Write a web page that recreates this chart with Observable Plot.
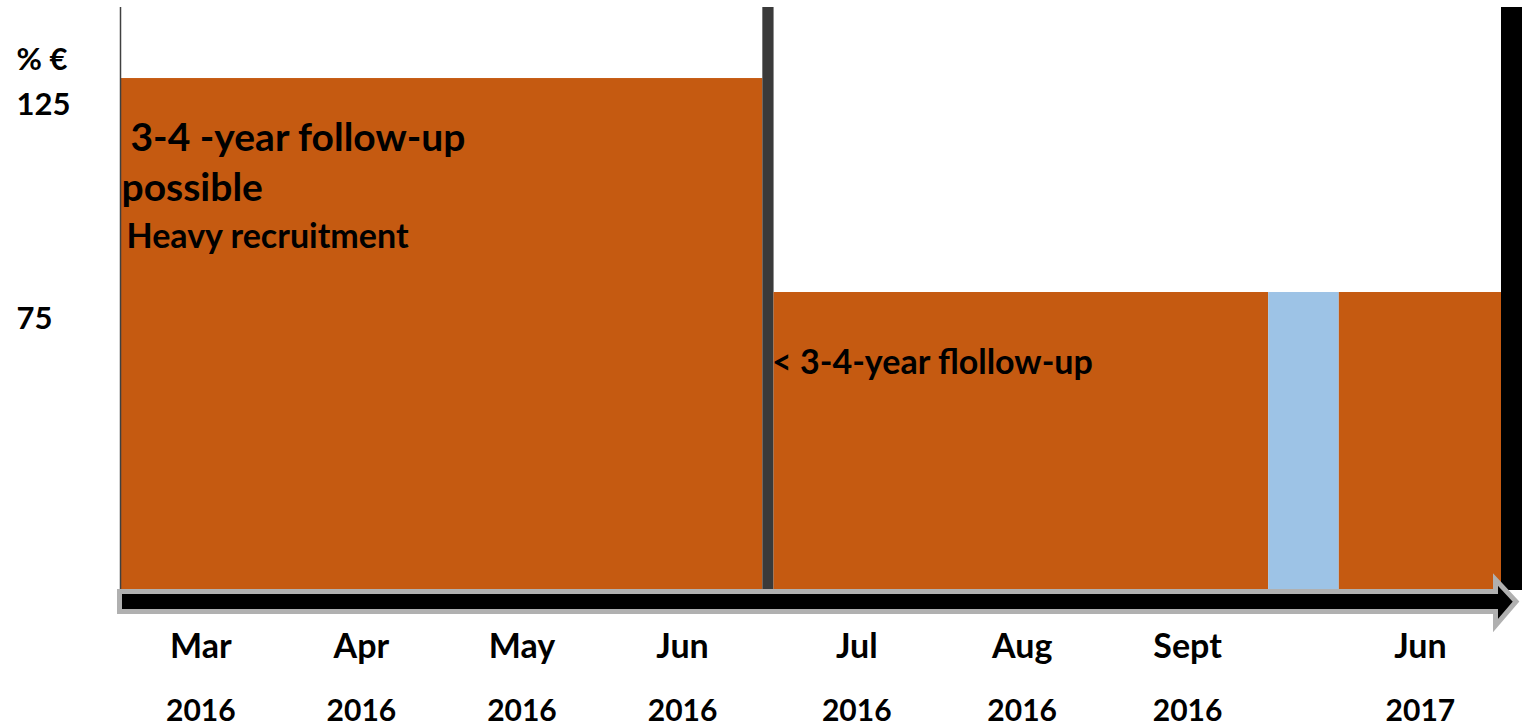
<!DOCTYPE html>
<html><head><meta charset="utf-8">
<script src="https://cdn.jsdelivr.net/npm/d3@7"></script>
<script src="https://cdn.jsdelivr.net/npm/@observablehq/plot@0.6"></script>
<style>html,body{margin:0;padding:0;background:#fff} svg{display:block}</style>
</head><body><div id="chart"></div>
<script>
// ---- data ----
const segStart = [0, 4, 4.07, 7.15, 7.59];
const segEnd   = [4, 4.07, 7.15, 7.59, 8.6];
const segValue = [125, 141.6, 75, 75, 75];
const segKind  = ["period", "divider", "period", "break", "period"];

const monthLabels = ["Mar", "Apr", "May", "Jun", "Jul", "Aug", "Sept", "Jun"];
const yearLabels  = ["2016", "2016", "2016", "2016", "2016", "2016", "2016", "2017"];
const monthPos    = [0.5, 1.5, 2.5, 3.5, 4.585, 5.615, 6.645, 8.095];

const yTicks = [125, 75];
const yUnit = "% €";

const noteText = ["3-4 -year follow-up", "possible", "Heavy recruitment", "< 3-4-year flollow-up"];
const noteX    = [0, 0, 0, 4.07];
const noteY    = [111.0, 99.3, 87.85, 58.6];
const noteSize = [39, 39, 34, 34];
const noteDx   = [10, 1, 6, -2];

const yMin = 5.37;
const yMax = 141.6;
const xEnd = 8.6;

// ---- tables ----
const segs = segStart.map((s, i) => ({start: s, end: segEnd[i], value: segValue[i], kind: segKind[i]}));
const months = monthLabels.map((m, i) => ({m, y: yearLabels[i], x: monthPos[i]}));
const notes = noteText.map((t, i) => ({t, x: noteX[i], y: noteY[i], size: noteSize[i], dx: noteDx[i]}));

const colors = {period: "#C55A11", divider: "#3A3A3A", break: "#9DC3E6"};
const font = "Lato, 'Open Sans', sans-serif";

function blockArrow(index, scales, values, dims) {
  const x = scales.x, y = scales.y;
  const left = x(0) - 0.5, base = x(xEnd) - 5.5, tip = x(xEnd) + 15;
  const y0 = y(yMin);
  const t = y0 + 1.5, b = y0 + 21.5, ht = y0 - 10.5, hb = y0 + 35.5, mid = y0 + 11.5;
  const p = `M${left},${t}L${base},${t}L${base},${ht}L${tip},${mid}L${base},${hb}L${base},${b}L${left},${b}Z`;
  return d3.create("svg:path").attr("d", p).attr("fill", "#000").attr("stroke", "#B0B0B0").attr("stroke-width", 5).node();
}

const noteMarks = notes.map(n => Plot.text([n], {
  x: "x", y: "y", text: "t", textAnchor: "start", dx: n.dx,
  fontSize: n.size, fontWeight: "bold", fontFamily: font, fill: "#000"
}));

const chart = Plot.plot({
  width: 1522,
  height: 727,
  marginLeft: 120,
  marginRight: 21,
  marginTop: 7,
  marginBottom: 137,
  style: {fontFamily: font, fontWeight: "bold", color: "#000", background: "#fff"},
  x: {domain: [0, xEnd], axis: null},
  y: {domain: [yMin, yMax], label: null},
  marks: [
    Plot.rectY(segs, {x1: "start", x2: "end", y1: yMin, y2: "value", fill: d => colors[d.kind]}),
    // right black edge bar
    Plot.rectY([{a: xEnd, b: xEnd + 0.135, v: yMax}], {x1: "a", x2: "b", y1: yMin, y2: "v", fill: "#000"}),
    Plot.ruleX([0], {stroke: "#404040", strokeWidth: 1.5}),
    blockArrow,
    Plot.axisY(yTicks, {tickSize: 0, tickPadding: 0, textAnchor: "start", dx: -104, dy: 27, fontSize: 31, fontWeight: "bold", fontFamily: font, label: null}),
    Plot.text([yUnit], {frameAnchor: "top-left", lineAnchor: "middle", textAnchor: "start", dx: -104, dy: 53, fontSize: 31, fontWeight: "bold", fontFamily: font, fill: "#000"}),
    ...noteMarks,
    Plot.text(months, {x: "x", text: "m", frameAnchor: "bottom", dy: 67, fontSize: 34, fontWeight: "bold", fontFamily: font, fill: "#000"}),
    Plot.text(months, {x: "x", text: "y", frameAnchor: "bottom", dy: 130, fontSize: 30, fontWeight: "bold", fontFamily: font, fill: "#000"})
  ]
});
document.getElementById("chart").appendChild(chart);
</script>
</body></html>
